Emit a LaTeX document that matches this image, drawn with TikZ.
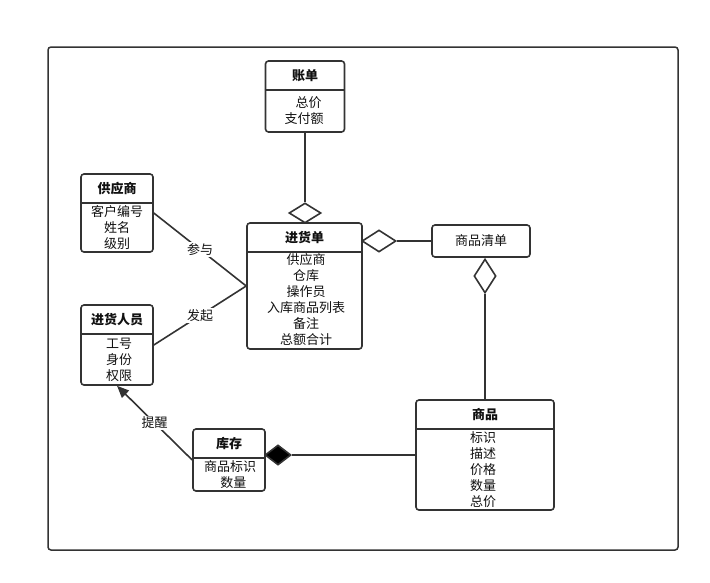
\documentclass[tikz,border=0pt]{standalone}
\usepackage{fontspec}
\setmainfont{Noto Sans CJK SC}
\usetikzlibrary{shapes.geometric,arrows.meta}
\definecolor{ink}{HTML}{333333}
\definecolor{txt}{HTML}{111111}
\tikzset{
  x=1pt, y=-1pt,
  frame/.style={draw=ink, line width=1.5pt, rounded corners=3pt},
  cls/.style={draw=ink, line width=1.6pt, rounded corners=3pt, fill=white, inner sep=0pt},
  ctitle/.style={font=\bfseries\fontsize{13}{15}\selectfont, text=txt, inner sep=0pt},
  attr/.style={font=\fontsize{13}{16}\selectfont, text=txt, align=center, inner sep=0pt},
  link/.style={draw=ink, line width=1.6pt},
  agg/.style={diamond, draw=ink, line width=1.6pt, fill=white, inner sep=0pt},
  comp/.style={agg, fill=black},
  tag/.style={font=\fontsize{13}{15}\selectfont, text=txt, fill=white, inner sep=1pt}
}
% horizontal rule under a class name
\newcommand\clsrule[1]{\draw[link] ([yshift=-30pt]#1.north west) -- ([yshift=-30pt]#1.north east);}
\newcommand\clstitle[2]{\node[ctitle] (#1t) at ([yshift=-15pt]#1.north) {#2};}
\begin{document}
\begin{tikzpicture}
\useasboundingbox (0,0) rectangle (710,582);
\draw[frame] (48,47) rectangle (678,550);

% classes
\node[cls, minimum width=79pt, minimum height=71pt] (bill) at (305,96.5) {};
\clsrule{bill}\clstitle{bill}{账单}
\node[attr] (billa) at (304,111) {\hspace*{0.7em}总价\\支付额};

\node[cls, minimum width=72pt, minimum height=78pt] (sup) at (117,213) {};
\clsrule{sup}\clstitle{sup}{供应商}
\node[attr] (supa) at (117,228) {客户编号\\姓名\\级别};

\node[cls, minimum width=115pt, minimum height=126pt] (order) at (304.5,286) {};
\clsrule{order}\clstitle{order}{进货单}
\node[attr] (ordera) at (306,300) {供应商\\仓库\\操作员\\入库商品列表\\备注\\总额合计};

\node[cls, minimum width=98pt, minimum height=32pt, attr] (list) at (481,241) {商品清单};

\node[cls, minimum width=72pt, minimum height=80pt] (staff) at (117,345) {};
\clsrule{staff}\clstitle{staff}{进货人员}
\node[attr] (staffa) at (119,360) {工号\\身份\\权限};

\node[cls, minimum width=72pt, minimum height=62pt] (stock) at (229,460) {};
\clsrule{stock}\clstitle{stock}{库存}
\node[attr] (stocka) at (230,475) {商品标识\\\hspace*{0.5em}数量};

\node[cls, minimum width=138pt, minimum height=110pt] (goods) at (485,455) {};
\clsrule{goods}\clstitle{goods}{商品}
\node[attr] (goodsa) at (483,470) {标识\\描述\\价格\\数量\\总价};

% aggregation / composition ends
\node[agg, minimum width=32pt, minimum height=20pt] (d1) at (305,213) {};
\node[agg, minimum width=34pt, minimum height=22pt] (d2) at (379,241) {};
\node[agg, minimum width=22pt, minimum height=34pt] (d3) at (485,276) {};
\node[comp, minimum width=26pt, minimum height=20pt] (d4) at (278,455) {};

% connectors
\draw[link] (bill.south) -- (d1.north);
\draw[link] (list.west) -- (d2.east);
\draw[link] (goods.north) -- (d3.south);
\draw[link] (goods.west) -- (d4.east);
\draw[link] (sup.east) -- node[tag, midway] {参与} (order.west);
\draw[link] (staff.east) -- node[tag, midway] {发起} (order.west);
\draw[link, -{Triangle[length=12pt, width=10pt]}] (stock.west) -- node[tag, midway] {提醒} (staff.south);
\end{tikzpicture}
\end{document}
